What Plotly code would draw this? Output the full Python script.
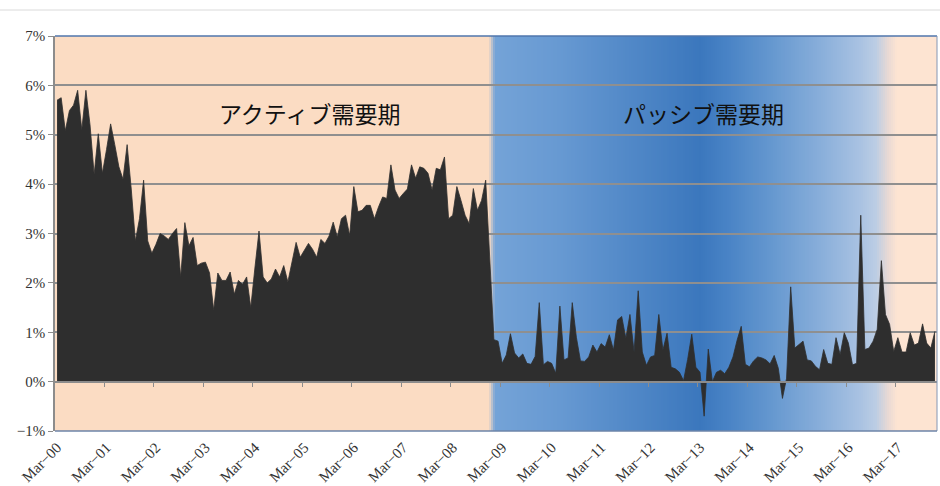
import numpy as np
import pandas as pd
import plotly.graph_objects as go

# Monthly spread series (%), Mar-2000 onward
active_period = [
    5.70, 5.75, 5.08, 5.49, 5.60, 5.90, 5.10, 5.90, 5.20, 4.20,
    5.02, 4.22, 4.70, 5.22, 4.80, 4.35, 4.10, 4.80, 3.90, 2.85,
    3.30, 4.08, 2.85, 2.60, 2.78, 3.00, 2.95, 2.88, 3.00, 3.10,
    2.12, 3.22, 2.75, 2.92, 2.35, 2.40, 2.42, 2.20, 1.45, 2.20,
    2.05, 2.05, 2.22, 1.77, 2.05, 1.97, 2.12, 1.50, 2.30, 3.05,
    2.12, 2.00, 2.08, 2.28, 2.12, 2.35, 2.02, 2.45, 2.82, 2.52,
    2.65, 2.80, 2.68, 2.52, 2.88, 2.80, 2.95, 3.23, 2.93, 3.30,
    3.37, 2.96, 3.95, 3.44, 3.47, 3.57, 3.57, 3.30, 3.54, 3.74,
    3.71, 4.39, 3.88, 3.71, 3.81, 3.90, 4.39, 4.12, 4.35, 4.32,
    4.22, 3.88, 4.32, 4.29, 4.55, 3.30, 3.37, 3.95, 3.67, 3.37,
    3.20, 3.91, 3.47, 3.67, 4.08,
]
passive_period = [
    2.50,
    0.85, 0.82, 0.37, 0.54, 0.97, 0.58, 0.48, 0.56, 0.37, 0.35,
    0.51, 1.60, 0.34, 0.41, 0.37, 0.17, 1.53, 0.44, 0.48, 1.60,
    0.90, 0.42, 0.41, 0.50, 0.74, 0.60, 0.77, 0.70, 0.95, 0.64,
    1.25, 1.32, 0.88, 1.36, 0.60, 1.84, 0.60, 0.33, 0.50, 0.53,
    1.36, 0.64, 0.98, 0.29, 0.26, 0.19, 0.02, 0.45, 0.96, 0.29,
    0.19, -0.70, 0.66, 0.00, 0.19, 0.23, 0.16, 0.29, 0.50, 0.84,
    1.12, 0.35, 0.30, 0.42, 0.50, 0.48, 0.44, 0.36, 0.53, 0.27,
    -0.34, 0.07, 1.92, 0.68, 0.75, 0.82, 0.44, 0.42, 0.31, 0.24,
    0.65, 0.37, 0.35, 0.89, 0.55, 0.99, 0.78, 0.34, 0.37, 3.37,
    0.65, 0.68, 0.82, 1.06, 2.45, 1.36, 1.16, 0.61, 0.89, 0.60,
    0.60, 0.99, 0.74, 0.78, 1.17, 0.78, 0.68, 1.02,
]
values = active_period + passive_period

period_names = ["アクティブ需要期", "パッシブ需要期"]

months = pd.date_range("2000-03-01", periods=len(values), freq="MS")
idx = np.arange(len(values))
label_pos = idx[::12]
label_text = [d.strftime("%b-%y").replace("-", "\u2212") for d in months[::12]]
boundary_ticks = [p - 0.5 for p in label_pos[1:]]

y_ticks = list(range(-1, 8))
y_text = [f"{v}%".replace("-", "\u2212") for v in y_ticks]

# --- figure geometry ---
W, H = 940, 486
ML, MR, MT, MB = 55, 3, 36, 55
PW, PH = W - ML - MR, H - MT - MB


def px_to_fx(px):
    return (px - ML) / PW


def px_to_fy(py):
    return (H - MB - py) / PH


# horizontal background gradient (pixel position, colour)
bg_stops = [
    (55, "#FBDCC3"), (489, "#FBDCC3"), (495, "#74A3D7"), (560, "#6799D2"),
    (640, "#4E86C6"), (700, "#3B77BD"), (725, "#4782C5"), (770, "#6497CF"),
    (820, "#88AEDA"), (860, "#A9C2E2"), (876, "#BCCDE4"), (888, "#E8D9D4"),
    (897, "#FDE4D2"), (937, "#FDE4D2"),
]


def hex_rgb(h):
    h = h.lstrip("#")
    return np.array([int(h[i:i + 2], 16) for i in (0, 2, 4)], dtype=float)


stop_x = np.array([s[0] for s in bg_stops], dtype=float)
stop_c = np.array([hex_rgb(s[1]) for s in bg_stops])

shapes = []
step = 2
for px in range(ML, ML + PW, step):
    c = px + step / 2
    rgb = [np.interp(c, stop_x, stop_c[:, k]) for k in range(3)]
    col = "rgb({:.0f},{:.0f},{:.0f})".format(*rgb)
    shapes.append(dict(
        type="rect", xref="paper", yref="paper", layer="below",
        x0=px_to_fx(px), x1=px_to_fx(min(px + step + 0.6, ML + PW)), y0=0, y1=1,
        fillcolor=col, line=dict(width=0),
    ))

# plot frame: top, right, bottom edges
shapes += [
    dict(type="line", xref="paper", yref="paper", x0=0, x1=1, y0=1, y1=1,
         line=dict(color="#4F76AC", width=1.6), layer="above"),
    dict(type="line", xref="paper", yref="paper", x0=1, x1=1, y0=0, y1=1,
         line=dict(color="#8497B5", width=1), layer="above"),
    dict(type="line", xref="paper", yref="paper", x0=0, x1=1, y0=0, y1=0,
         line=dict(color="#6D84A9", width=1.6), layer="above"),
    # thin rule across the top of the page
    dict(type="line", xref="paper", yref="paper",
         x0=px_to_fx(0), x1=px_to_fx(W), y0=px_to_fy(10), y1=px_to_fy(10),
         line=dict(color="#DADADA", width=1)),
]

fig = go.Figure()
fig.add_trace(go.Scatter(
    x=idx, y=values, mode="lines", fill="tozeroy",
    line=dict(color="#2E2E2E", width=0.8), fillcolor="#2E2E2E",
    hoverinfo="skip", showlegend=False,
))
# companion trace carrying the zero-line axis
fig.add_trace(go.Scatter(
    x=idx, y=values, mode="lines", xaxis="x2", opacity=0,
    line=dict(width=0), hoverinfo="skip", showlegend=False,
))

serif = "Liberation Serif, Times New Roman, serif"

fig.update_layout(
    width=W, height=H,
    margin=dict(l=ML, r=MR, t=MT, b=MB),
    paper_bgcolor="white", plot_bgcolor="rgba(0,0,0,0)",
    shapes=shapes,
    xaxis=dict(
        range=[-0.5, len(values) - 0.5], tickmode="array",
        tickvals=label_pos, ticktext=label_text, tickangle=-45,
        tickfont=dict(family=serif, size=15, color="#333333"),
        ticks="", ticklabelstandoff=4, showgrid=False, zeroline=False,
        showline=False, automargin=False,
    ),
    xaxis2=dict(
        overlaying="x", anchor="free", position=1 / 8,
        range=[-0.5, len(values) - 0.5], tickmode="array",
        tickvals=boundary_ticks, ticktext=[""] * len(boundary_ticks),
        ticks="outside", ticklen=5, tickcolor="#8C8C8C", tickwidth=1,
        showline=True, linecolor="#8C8C8C", linewidth=1.6,
        showgrid=False, zeroline=False, showticklabels=False, automargin=False,
    ),
    yaxis=dict(
        range=[-1, 7], tickmode="array", tickvals=y_ticks, ticktext=y_text,
        tickfont=dict(family=serif, size=15, color="#333333"),
        ticks="outside", ticklen=5, tickcolor="#8C8C8C",
        showline=True, linecolor="#8C8C8C", linewidth=1.6,
        showgrid=True, gridcolor="#8F8F8F", gridwidth=1.5, zeroline=False,
        automargin=False,
    ),
    annotations=[
        dict(text=period_names[0], xref="paper", yref="paper",
             x=px_to_fx(309), y=px_to_fy(113), xanchor="center", yanchor="middle",
             showarrow=False,
             font=dict(family="Noto Sans CJK JP", size=23, color="#111111")),
        dict(text=period_names[1], xref="paper", yref="paper",
             x=px_to_fx(703), y=px_to_fy(113), xanchor="center", yanchor="middle",
             showarrow=False,
             font=dict(family="Noto Sans CJK JP", size=23, color="#111111")),
    ],
)

fig.write_html("out.html")
